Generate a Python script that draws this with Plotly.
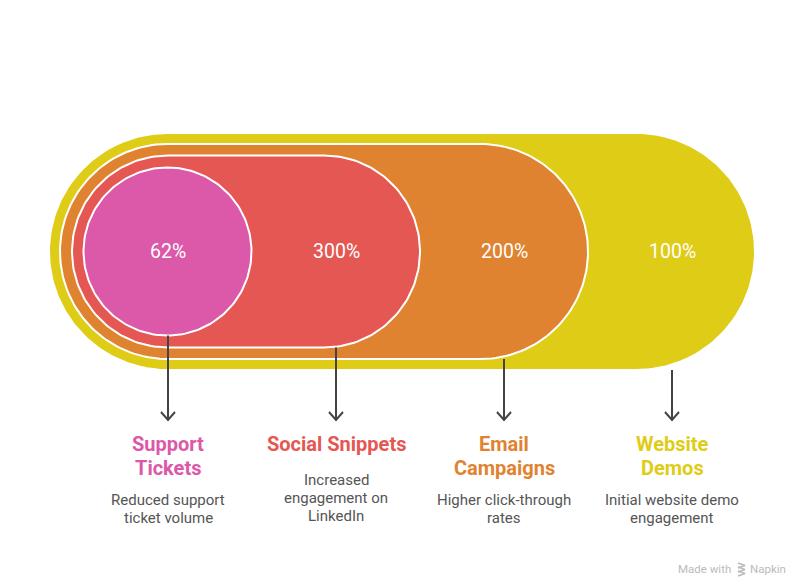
import numpy as np
import plotly.graph_objects as go

# ---------------- Data ----------------
categories = ["Support Tickets", "Social Snippets", "Email Campaigns", "Website Demos"]
title_lines = [["Support", "Tickets"], ["Social Snippets"], ["Email", "Campaigns"], ["Website", "Demos"]]
values = ["62%", "300%", "200%", "100%"]
descriptions = [
    ["Reduced support", "ticket volume"],
    ["Increased", "engagement on", "LinkedIn"],
    ["Higher click-through", "rates"],
    ["Initial website demo", "engagement"],
]
colors = ["#DC58A8", "#E55753", "#DF8330", "#DFCC16"]

# ---------------- Layout geometry (pixels, page coordinates) ----------------
W, H = 804, 588
PAGE_MARGIN = 8  # default body margin of the page
CY = 251.5
label_x = [168, 336, 504, 672]
pill_left = [83.5, 72, 60, 49]
pill_right = [251.5, 420, 588, 755]
pill_r = [84, 96, 107.5, 118.5]
arrow_end = 420
title_y0 = 444
title_step = 24
desc_y0 = [500, 480, 500, 500]
desc_step = 18
FONT = "Roboto"


def pill(left, right, r, cy, n=90):
    cxl, cxr = left + r, right - r
    t1 = np.linspace(np.pi / 2, 3 * np.pi / 2, n)
    t2 = np.linspace(-np.pi / 2, np.pi / 2, n)
    xs = np.concatenate([cxl + r * np.cos(t1), cxr + r * np.cos(t2)])
    ys = np.concatenate([cy - r * np.sin(t1), cy - r * np.sin(t2)])
    return np.append(xs, xs[0]), np.append(ys, ys[0])


fig = go.Figure()

# nested pills, outermost first
for i in reversed(range(len(categories))):
    xs, ys = pill(pill_left[i], pill_right[i], pill_r[i], CY)
    fig.add_trace(go.Scatter(
        x=xs, y=ys, mode="lines", fill="toself", fillcolor=colors[i],
        line=dict(color="white", width=2), hoverinfo="skip", showlegend=False,
        name=categories[i],
    ))

# arrows
for i in range(len(categories)):
    x = label_x[i]
    y_start = CY + pill_r[i]
    fig.add_trace(go.Scatter(
        x=[x, x], y=[y_start, arrow_end], mode="lines",
        line=dict(color="#444444", width=2), hoverinfo="skip", showlegend=False,
    ))
    fig.add_trace(go.Scatter(
        x=[x - 7, x, x + 7], y=[arrow_end - 8, arrow_end, arrow_end - 8], mode="lines",
        line=dict(color="#444444", width=2), hoverinfo="skip", showlegend=False,
    ))

annotations = []
for i in range(len(categories)):
    annotations.append(dict(
        x=label_x[i], y=CY, text=values[i], showarrow=False,
        font=dict(family=FONT, size=19.5, color="white", weight=400),
        xanchor="center", yanchor="middle",
    ))
    for j, line in enumerate(title_lines[i]):
        annotations.append(dict(
            x=label_x[i], y=title_y0 + j * title_step, text=line, showarrow=False,
            font=dict(family=FONT, size=20, color=colors[i], weight=700),
            xanchor="center", yanchor="middle",
        ))
    for j, line in enumerate(descriptions[i]):
        annotations.append(dict(
            x=label_x[i], y=desc_y0[i] + j * desc_step, text=line, showarrow=False,
            font=dict(family=FONT, size=15, color="#555555"),
            xanchor="center", yanchor="middle",
        ))

# watermark
annotations.append(dict(x=733, y=569, text="Made with", showarrow=False,
                        font=dict(family=FONT, size=11.5, color="#BBBBBB"),
                        xanchor="right", yanchor="middle"))
annotations.append(dict(x=748, y=569, text="Napkin", showarrow=False,
                        font=dict(family=FONT, size=11.5, color="#BBBBBB"),
                        xanchor="left", yanchor="middle"))
for k in range(3):
    fig.add_trace(go.Scatter(
        x=[738, 745, 738], y=[563 + k * 4, 565.5 + k * 4, 568 + k * 4], mode="lines",
        line=dict(color="#BBBBBB", width=1.5), hoverinfo="skip", showlegend=False,
    ))

fig.update_layout(
    width=W - PAGE_MARGIN, height=H - PAGE_MARGIN, margin=dict(l=0, r=0, t=0, b=0),
    paper_bgcolor="white", plot_bgcolor="white",
    xaxis=dict(range=[PAGE_MARGIN, W], visible=False, fixedrange=True),
    yaxis=dict(range=[H, PAGE_MARGIN], visible=False, fixedrange=True),
    annotations=annotations, showlegend=False,
)

fig.write_html("out.html", config={"displayModeBar": False})
